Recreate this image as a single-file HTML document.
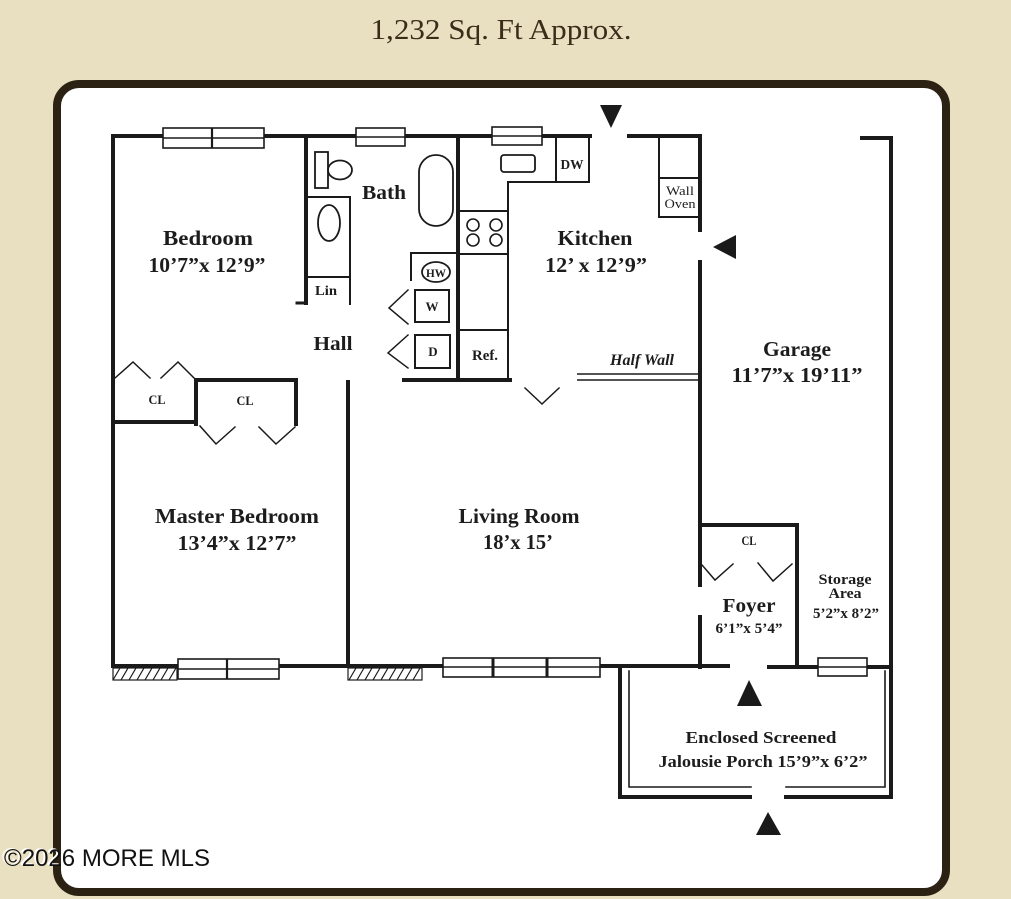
<!DOCTYPE html>
<html><head><meta charset="utf-8"><style>
html,body{margin:0;padding:0;background:#e9dfc1;}
svg{display:block;}
.t{font-family:"Liberation Serif",serif;font-weight:bold;fill:#1c1c1c;}
</style></head><body>
<svg width="1011" height="899" viewBox="0 0 1011 899" xmlns="http://www.w3.org/2000/svg">
<rect x="0" y="0" width="1011" height="899" fill="#e9dfc1"/>
<text x="501" y="39" font-family="Liberation Serif, serif" font-size="29" fill="#3a2e1b" text-anchor="middle" textLength="261" lengthAdjust="spacingAndGlyphs">1,232 Sq. Ft Approx.</text>
<rect x="57" y="84" width="889" height="808" rx="22" ry="22" fill="#ffffff" stroke="#2b2213" stroke-width="8"/>

<g stroke="#1a1a1a" fill="none" stroke-linecap="square">
<!-- outer walls -->
<line x1="113" y1="136" x2="590" y2="136" stroke-width="4"/>
<line x1="113" y1="136" x2="113" y2="666" stroke-width="4"/>
<line x1="113" y1="666" x2="728" y2="666" stroke-width="4"/>
<line x1="769" y1="667" x2="891" y2="667" stroke-width="4"/>
<!-- bath -->
<line x1="306" y1="140" x2="306" y2="303" stroke-width="4"/>
<line x1="297" y1="303" x2="306" y2="303" stroke-width="3"/>
<rect x="315" y="152" width="13" height="36" stroke-width="1.8"/>
<ellipse cx="340" cy="170" rx="12" ry="9.5" stroke-width="1.8"/>
<line x1="306" y1="197" x2="350" y2="197" stroke-width="2"/>
<line x1="350" y1="197" x2="350" y2="304" stroke-width="2"/>
<line x1="306" y1="277" x2="350" y2="277" stroke-width="2"/>
<ellipse cx="329" cy="223" rx="11" ry="18" stroke-width="1.8"/>
<rect x="419" y="155" width="34" height="71" rx="17" ry="17" stroke-width="1.8"/>
<line x1="458" y1="140" x2="458" y2="380" stroke-width="4"/>
<!-- laundry -->
<line x1="411" y1="253" x2="458" y2="253" stroke-width="2"/>
<line x1="411" y1="253" x2="411" y2="280" stroke-width="2"/>
<ellipse cx="436" cy="272" rx="14" ry="10" stroke-width="1.8"/>
<rect x="415" y="290" width="34" height="32" stroke-width="2"/>
<rect x="415" y="335" width="35" height="33" stroke-width="2"/>
<polyline points="408,290 389,308 408,324" stroke-width="1.5"/>
<polyline points="408,335 388,353 408,368" stroke-width="1.5"/>
<line x1="404" y1="380" x2="510" y2="380" stroke-width="4"/>
<!-- kitchen -->
<line x1="508" y1="182" x2="508" y2="380" stroke-width="2"/>
<line x1="508" y1="182" x2="589" y2="182" stroke-width="2"/>
<line x1="556" y1="136" x2="556" y2="182" stroke-width="2"/>
<line x1="589" y1="136" x2="589" y2="182" stroke-width="2"/>
<rect x="501" y="155" width="34" height="17" rx="3" ry="3" stroke-width="1.8"/>
<line x1="458" y1="211" x2="508" y2="211" stroke-width="2"/>
<line x1="458" y1="254" x2="508" y2="254" stroke-width="2"/>
<circle cx="473" cy="225" r="6" stroke-width="1.6"/>
<circle cx="496" cy="225" r="6" stroke-width="1.6"/>
<circle cx="473" cy="240" r="6" stroke-width="1.6"/>
<circle cx="496" cy="240" r="6" stroke-width="1.6"/>
<line x1="458" y1="330" x2="508" y2="330" stroke-width="2"/>
<!-- right kitchen wall / oven -->
<line x1="629" y1="136" x2="700" y2="136" stroke-width="4"/>
<line x1="700" y1="136" x2="700" y2="230" stroke-width="4"/>
<line x1="659" y1="136" x2="659" y2="217" stroke-width="2"/>
<line x1="659" y1="217" x2="700" y2="217" stroke-width="2"/>
<line x1="659" y1="178" x2="700" y2="178" stroke-width="2"/>
<line x1="700" y1="262" x2="700" y2="585" stroke-width="4"/>
<line x1="700" y1="617" x2="700" y2="667" stroke-width="4"/>
<line x1="577" y1="374" x2="700" y2="374" stroke-width="1.5" stroke-linecap="butt"/>
<line x1="577" y1="380" x2="700" y2="380" stroke-width="1.5" stroke-linecap="butt"/>
<polyline points="525,388 542,404 559,388" stroke-width="1.5"/>
<!-- garage -->
<line x1="862" y1="138" x2="891" y2="138" stroke-width="4"/>
<line x1="891" y1="138" x2="891" y2="797" stroke-width="4"/>
<!-- closets left -->
<line x1="113" y1="422" x2="192" y2="422" stroke-width="4"/>
<polyline points="115,378 133,362 150,378" stroke-width="1.5"/>
<polyline points="161,378 178,362 195,379" stroke-width="1.5"/>
<path d="M196,424 V380 H296 V424" stroke-width="4"/>
<polyline points="200,426 216,444 235,427" stroke-width="1.5"/>
<polyline points="259,427 276,444 295,427" stroke-width="1.5"/>
<line x1="348" y1="382" x2="348" y2="666" stroke-width="4"/>
<!-- foyer -->
<line x1="700" y1="525" x2="797" y2="525" stroke-width="4"/>
<line x1="797" y1="525" x2="797" y2="667" stroke-width="4"/>
<polyline points="702,565 715,580 733,564" stroke-width="1.5"/>
<polyline points="758,563 773,581 792,564" stroke-width="1.5"/>
<!-- porch -->
<path d="M620,667 V797 H750" stroke-width="4"/>
<line x1="786" y1="797" x2="891" y2="797" stroke-width="4"/>
<path d="M629,671 V787 H751" stroke-width="1.6"/>
<path d="M786,787 H885 V671" stroke-width="1.6"/>
</g>

<!-- windows -->
<g stroke="#1a1a1a" fill="#ffffff">
<rect x="163" y="128" width="101" height="20" stroke-width="1.6"/>
<line x1="163" y1="138" x2="264" y2="138" stroke-width="1.4"/>
<line x1="212" y1="128" x2="212" y2="148" stroke-width="2.2"/>
<rect x="356" y="128" width="49" height="18" stroke-width="1.6"/>
<line x1="356" y1="137" x2="405" y2="137" stroke-width="1.4"/>
<rect x="492" y="127" width="50" height="18" stroke-width="1.6"/>
<line x1="492" y1="136" x2="542" y2="136" stroke-width="1.4"/>
<rect x="178" y="659" width="101" height="20" stroke-width="1.6"/>
<line x1="178" y1="669" x2="279" y2="669" stroke-width="1.4"/>
<line x1="227" y1="659" x2="227" y2="679" stroke-width="2.2"/>
<rect x="443" y="658" width="157" height="19" stroke-width="1.6"/>
<line x1="443" y1="667" x2="600" y2="667" stroke-width="1.4"/>
<line x1="493" y1="658" x2="493" y2="677" stroke-width="3"/>
<line x1="547" y1="658" x2="547" y2="677" stroke-width="3"/>
<rect x="818" y="658" width="49" height="18" stroke-width="1.6"/>
<line x1="818" y1="667" x2="867" y2="667" stroke-width="1.4"/>
</g>

<!-- hatches -->
<g stroke="#1a1a1a" fill="none" stroke-width="1.2">
<rect x="113" y="668" width="64" height="12"/>
<path d="M113,680 L120,668 M121,680 L128,668 M129,680 L136,668 M137,680 L144,668 M145,680 L152,668 M153,680 L160,668 M161,680 L168,668 M169,680 L176,668"/>
<rect x="348" y="668" width="74" height="12"/>
<path d="M349,680 L356,668 M357,680 L364,668 M365,680 L372,668 M373,680 L380,668 M381,680 L388,668 M389,680 L396,668 M397,680 L404,668 M405,680 L412,668 M413,680 L420,668"/>
</g>

<!-- arrows -->
<g fill="#1a1a1a">
<polygon points="600,105 622,105 611,128"/>
<polygon points="713,247 736,235 736,259"/>
<polygon points="737,706 762,706 749,680"/>
<polygon points="756,835 781,835 768,812"/>
</g>

<!-- labels -->
<g class="t" text-anchor="middle">
<text x="208" y="245" font-size="21" textLength="90" lengthAdjust="spacingAndGlyphs">Bedroom</text>
<text x="207" y="272" font-size="21" textLength="117" lengthAdjust="spacingAndGlyphs">10’7”x 12’9”</text>
<text x="384" y="199" font-size="20" textLength="44" lengthAdjust="spacingAndGlyphs">Bath</text>
<text x="326" y="295" font-size="14" textLength="22" lengthAdjust="spacingAndGlyphs">Lin</text>
<text x="333" y="350" font-size="20" textLength="39" lengthAdjust="spacingAndGlyphs">Hall</text>
<text x="436" y="277" font-size="12" textLength="20" lengthAdjust="spacingAndGlyphs">HW</text>
<text x="432" y="311" font-size="13">W</text>
<text x="433" y="356" font-size="13">D</text>
<text x="572" y="169" font-size="14" textLength="23" lengthAdjust="spacingAndGlyphs">DW</text>
<text x="680" y="195" font-size="13" font-weight="normal" textLength="28" lengthAdjust="spacingAndGlyphs">Wall</text>
<text x="680" y="208" font-size="13" font-weight="normal" textLength="31" lengthAdjust="spacingAndGlyphs">Oven</text>
<text x="595" y="245" font-size="21" textLength="75" lengthAdjust="spacingAndGlyphs">Kitchen</text>
<text x="596" y="272" font-size="21" textLength="102" lengthAdjust="spacingAndGlyphs">12’ x 12’9”</text>
<text x="485" y="360" font-size="15" textLength="26" lengthAdjust="spacingAndGlyphs">Ref.</text>
<text x="642" y="365" font-size="16" font-style="italic" textLength="64" lengthAdjust="spacingAndGlyphs">Half Wall</text>
<text x="797" y="356" font-size="21" textLength="68" lengthAdjust="spacingAndGlyphs">Garage</text>
<text x="797" y="382" font-size="21" textLength="131" lengthAdjust="spacingAndGlyphs">11’7”x 19’11”</text>
<text x="157" y="404" font-size="13" textLength="17" lengthAdjust="spacingAndGlyphs">CL</text>
<text x="245" y="405" font-size="13" textLength="17" lengthAdjust="spacingAndGlyphs">CL</text>
<text x="237" y="523" font-size="21" textLength="164" lengthAdjust="spacingAndGlyphs">Master Bedroom</text>
<text x="237" y="550" font-size="21" textLength="119" lengthAdjust="spacingAndGlyphs">13’4”x 12’7”</text>
<text x="519" y="523" font-size="21" textLength="121" lengthAdjust="spacingAndGlyphs">Living Room</text>
<text x="518" y="549" font-size="21" textLength="70" lengthAdjust="spacingAndGlyphs">18’x 15’</text>
<text x="749" y="545" font-size="13" textLength="15" lengthAdjust="spacingAndGlyphs">CL</text>
<text x="749" y="612" font-size="20" textLength="53" lengthAdjust="spacingAndGlyphs">Foyer</text>
<text x="749" y="633" font-size="15" textLength="67" lengthAdjust="spacingAndGlyphs">6’1”x 5’4”</text>
<text x="845" y="584" font-size="15" textLength="53" lengthAdjust="spacingAndGlyphs">Storage</text>
<text x="845" y="598" font-size="15" textLength="33" lengthAdjust="spacingAndGlyphs">Area</text>
<text x="846" y="618" font-size="15" textLength="66" lengthAdjust="spacingAndGlyphs">5’2”x 8’2”</text>
<text x="761" y="743" font-size="17" textLength="151" lengthAdjust="spacingAndGlyphs">Enclosed Screened</text>
<text x="763" y="767" font-size="17" textLength="209" lengthAdjust="spacingAndGlyphs">Jalousie Porch 15’9”x 6’2”</text>
</g>

<!-- watermark -->
<text x="2" y="865" font-family="Liberation Sans, sans-serif" font-size="24" fill="#ffffff" textLength="206" lengthAdjust="spacingAndGlyphs">©2026 MORE MLS</text>
<text x="4" y="866" font-family="Liberation Sans, sans-serif" font-size="24" fill="#111111" textLength="206" lengthAdjust="spacingAndGlyphs">©2026 MORE MLS</text>
</svg>
</body></html>
